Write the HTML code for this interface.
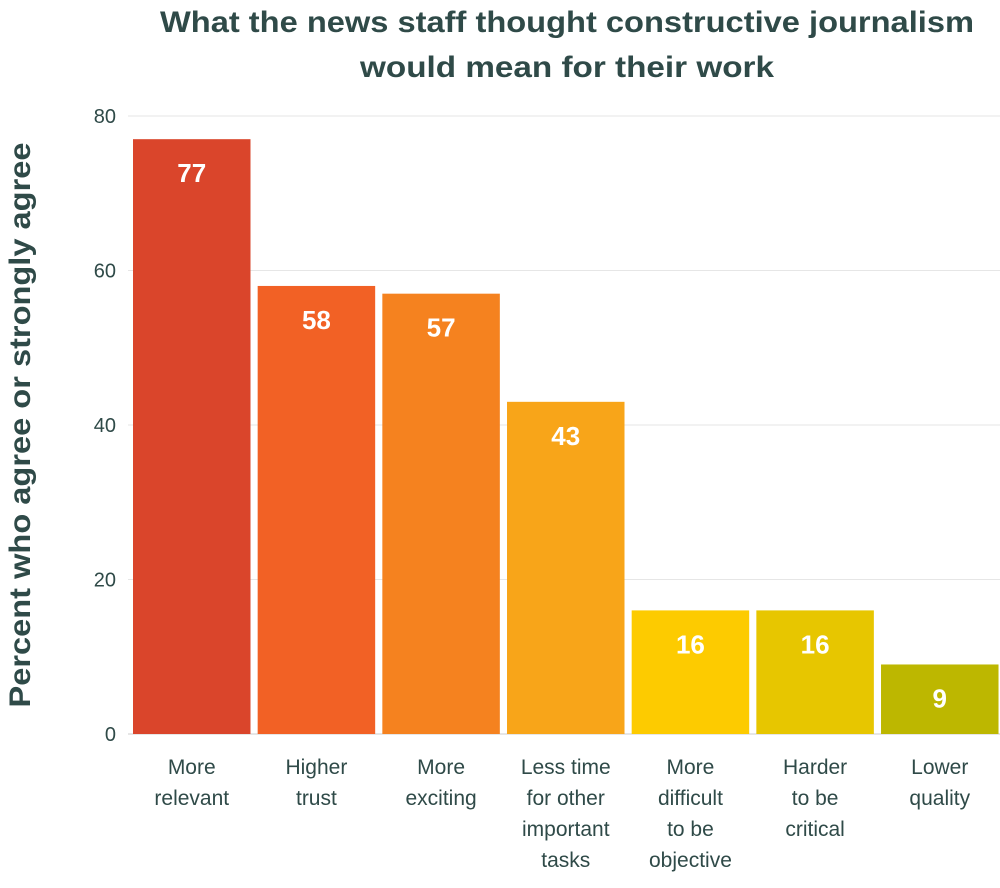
<!DOCTYPE html>
<html><head><meta charset="utf-8"><style>
body{margin:0;background:#fff;width:1000px;height:883px;overflow:hidden;font-family:"Liberation Sans",sans-serif}
</style></head><body>
<svg id="chart" width="1000" height="883" xmlns="http://www.w3.org/2000/svg">
<text x="567" y="32" text-anchor="middle" font-size="30" font-weight="bold" fill="#2f4a48" textLength="814" lengthAdjust="spacingAndGlyphs">What the news staff thought constructive journalism</text>
<text x="567" y="77" text-anchor="middle" font-size="30" font-weight="bold" fill="#2f4a48" textLength="414" lengthAdjust="spacingAndGlyphs">would mean for their work</text>
<text transform="translate(30,425) rotate(-90)" text-anchor="middle" font-size="30" font-weight="bold" fill="#2f4a48" textLength="565" lengthAdjust="spacingAndGlyphs">Percent who agree or strongly agree</text>
<g id="grid"></g><g id="bars"></g><g id="xlabels"></g>
</svg>
<script>
const categories=[["More","relevant"],["Higher","trust"],["More","exciting"],["Less time","for other","important","tasks"],["More","difficult","to be","objective"],["Harder","to be","critical"],["Lower","quality"]];
const values=[77,58,57,43,16,16,9];
const colors=["#da452b","#f26125","#f5821f","#f8a519","#fdcb00","#e7c600","#bdb700"];
const yTicks=[0,20,40,60,80];
const NS="http://www.w3.org/2000/svg";
const y0=734,yTop=116,yMax=80;
const y=v=>y0-(y0-yTop)*v/yMax;
const bandStart=133,step=124.67,bw=117.5;
const x=i=>bandStart+i*step;
function mk(t,a,p){const e=document.createElementNS(NS,t);for(const k in a)e.setAttribute(k,a[k]);p.appendChild(e);return e;}
const grid=document.getElementById('grid'),bars=document.getElementById('bars'),xl=document.getElementById('xlabels');
yTicks.forEach(t=>{
 const l=mk('line',{x1:128,x2:1000,y1:y(t),y2:y(t),stroke:t===0?'#cccccc':'#e6e6e6','stroke-width':1},grid);
 
 
 const tx=mk('text',{x:116,y:y(t)+7,'text-anchor':'end','font-size':20,fill:'#2f4a48'},grid);
 tx.textContent=t;
 
 
});
values.forEach((v,i)=>{
 const r=mk('rect',{x:x(i),y:y(v),width:bw,height:y0-y(v),fill:colors[i]},bars);
 
 
 const t=mk('text',{x:x(i)+bw/2,y:y(v)+43,'text-anchor':'middle','font-size':26,'font-weight':'bold',fill:'#fff'},bars);
 t.textContent=v;
 
 
 categories[i].forEach((s,j)=>{
  const c=mk('text',{x:x(i)+bw/2,y:774+j*31,'text-anchor':'middle','font-size':21,fill:'#2f4a48'},xl);
  c.textContent=s;
  
  
 });
});
</script>
</body></html>
